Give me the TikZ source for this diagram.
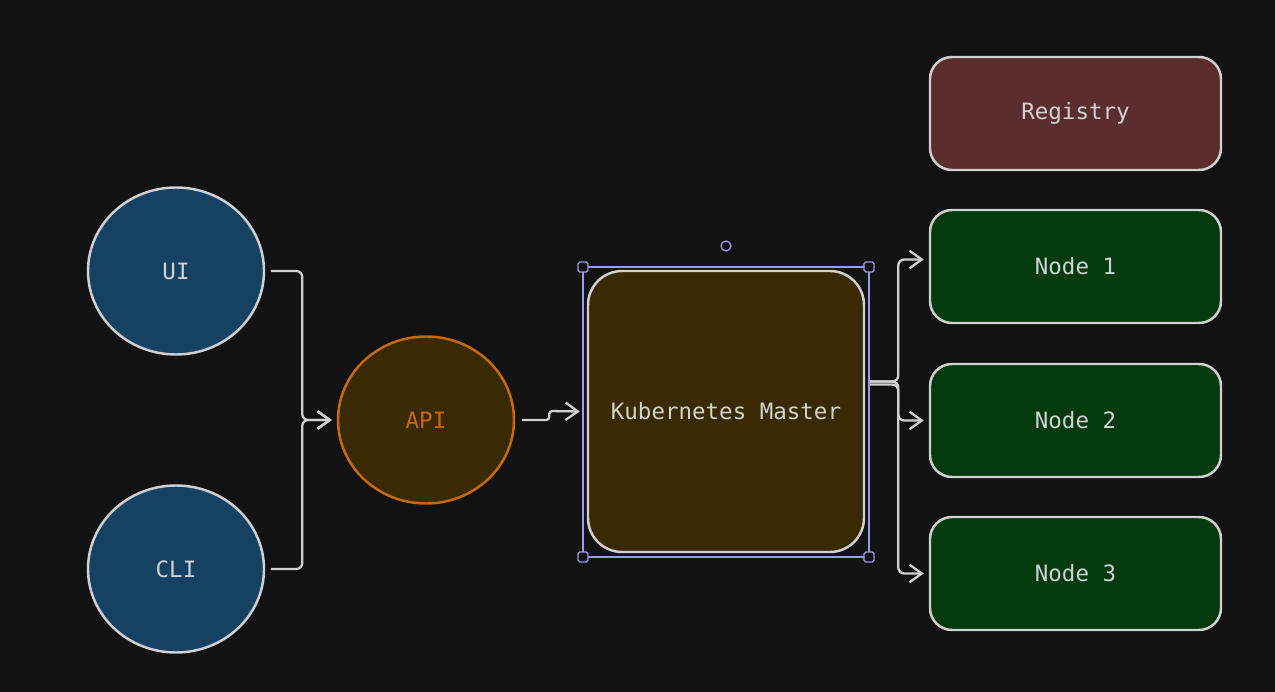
\documentclass[tikz,border=0pt]{standalone}
\usepackage{fontspec}
\setmonofont{DejaVu Sans Mono}
\usetikzlibrary{arrows.meta,shapes.geometric}

\newlength\px
\setlength\px{0.02cm}

\definecolor{canvas}{HTML}{121212}
\definecolor{edge}{HTML}{D0D0D0}
\definecolor{label}{HTML}{D2D2D2}
\definecolor{clientfill}{HTML}{154163}
\definecolor{apifill}{HTML}{3A2A04}
\definecolor{apiline}{HTML}{C8690A}
\definecolor{regfill}{HTML}{5C2D2F}
\definecolor{workfill}{HTML}{033B0F}
\definecolor{select}{HTML}{9B9BF0}

\tikzset{
  client/.style={ellipse, draw=edge, line width=1.4pt, fill=clientfill,
    inner sep=0pt, minimum width=176\px, minimum height=167\px, text=label},
  apinode/.style={ellipse, draw=apiline, line width=1.4pt, fill=apifill,
    inner sep=0pt, minimum width=176\px, minimum height=167\px, text=apiline},
  box/.style={draw=edge, line width=1.4pt, rounded corners=22\px, text=label,
    inner sep=0pt, minimum width=291\px, minimum height=113\px},
  conn/.style={draw=edge, line width=1.3pt, rounded corners=6\px,
    -{Straight Barb[length=7pt,width=10pt,line width=1.3pt]}},
  handle/.style={draw=select, fill=canvas, line width=0.7pt, minimum size=10\px,
    inner sep=0pt, rounded corners=1pt},
}

\begin{document}
\begin{tikzpicture}[x=1\px,y=-1\px,font=\ttfamily\fontsize{12.8}{15}\selectfont]
  \fill[canvas] (0,0) rectangle (1275,692);
  \useasboundingbox (0,0) rectangle (1275,692);

  % clients
  \node[client] (ui) at (176,271) {UI};
  \node[client] (cli) at (176,569) {CLI};
  \node[apinode] (api) at (426,420) {API};

  % master with its selection frame
  \node[box, fill=apifill, rounded corners=34\px, minimum width=276\px,
    minimum height=281\px] (km) at (726,411.5) {Kubernetes Master};
  \draw[select, line width=0.7pt] (583,267) rectangle (869,557);
  \foreach \hx/\hy in {583/267,869/267,583/557,869/557}
    \node[handle] at (\hx,\hy) {};
  \node[circle, draw=select, line width=0.7pt, minimum size=10\px, inner sep=0pt]
    (rot) at (726,246) {};

  % registry and worker nodes
  \node[box, fill=regfill] (reg) at (1075.5,113.5) {Registry};
  \node[box, fill=workfill] (n1) at (1075.5,266.5) {Node 1};
  \node[box, fill=workfill] (n2) at (1075.5,420.5) {Node 2};
  \node[box, fill=workfill] (n3) at (1075.5,573.5) {Node 3};

  % connectors
  \draw[conn] ([xshift=6\px]ui.east) -- ++(31,0) |- ([xshift=-5\px]api.west);
  \draw[conn] ([xshift=6\px]cli.east) -- ++(31,0) |- ([xshift=-5\px]api.west);
  \draw[conn, rounded corners=3\px] ([xshift=7\px]api.east) -- ++(27,0)
    -- ++(0,-9) -- ([xshift=-7\px]km.west);
  \draw[conn] ([shift={(5,-30)}]km.east) -- ++(28,0) |- ([shift={(-5,-7)}]n1.west);
  \draw[conn] ([shift={(5,-27)}]km.east) -- ++(28,0) |- ([xshift=-5\px]n2.west);
  \draw[conn] ([shift={(5,-30)}]km.east) -- ++(28,0) |- ([xshift=-5\px]n3.west);
\end{tikzpicture}
\end{document}
